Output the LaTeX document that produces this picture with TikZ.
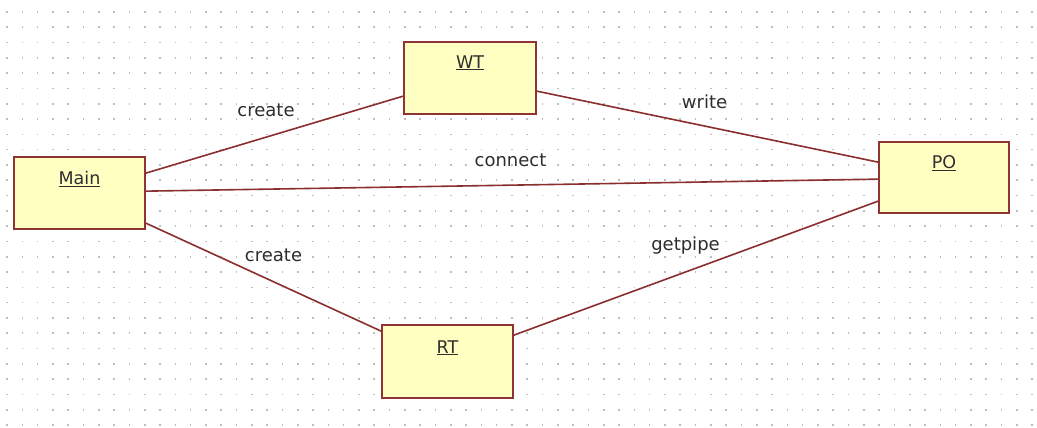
\documentclass[tikz,border=0pt]{standalone}
\usepackage{fontspec}
\setmainfont{DejaVu Sans}
\usetikzlibrary{calc}
\definecolor{boxfill}{HTML}{FFFFC2}
\definecolor{boxline}{HTML}{8E3434}
\definecolor{linkline}{HTML}{8A2E2E}
\definecolor{txt}{HTML}{2E2E2E}
\definecolor{dotc}{HTML}{BEBEBE}
\tikzset{
  classbox/.style={draw=boxline, line width=1.7pt, fill=boxfill, rectangle, inner sep=0pt},
  boxtext/.style={text=txt, font=\fontsize{17.5}{20}\selectfont, inner sep=0pt, anchor=base},
  linktext/.style={text=txt, font=\fontsize{18}{21}\selectfont, inner sep=0pt, anchor=base},
  link/.style={draw=linkline, line width=1.6pt}
}
\begin{document}
\begin{tikzpicture}[x=1pt,y=1pt]
\useasboundingbox (0,0) rectangle (1037,428);
\fill[white] (0,0) rectangle (1037,428);
% dot grid
\foreach \i in {0,...,67} {
  \foreach \j in {0,...,27} {
    \fill[dotc] ({7+15.3*\i-0.8},{428-12-15.3*\j-0.8}) rectangle ++(1.6,1.6);
  }
}
% boxes (image coords: y_tikz = 428 - y_img)
\node[classbox, minimum width=131pt, minimum height=72pt] (Main) at (79.5,235) {};
\node[classbox, minimum width=132pt, minimum height=72pt] (WT) at (470,350) {};
\node[classbox, minimum width=130pt, minimum height=71pt] (PO) at (944,250.5) {};
\node[classbox, minimum width=131pt, minimum height=73pt] (RT) at (447.5,66.5) {};
% box titles
\node[boxtext] (MainT) at ($(Main.north)+(0,-28)$) {\underline{Main}};
\node[boxtext] (WTT) at ($(WT.north)+(0,-27)$) {\underline{WT}};
\node[boxtext] (POT) at ($(PO.north)+(0,-27)$) {\underline{PO}};
\node[boxtext] (RTT) at ($(RT.north)+(0,-29)$) {\underline{RT}};
% connector end points
\coordinate (m1) at ($(Main.north east)+(0,-17)$);
\coordinate (m2) at ($(Main.north east)+(0,-35)$);
\coordinate (m3) at ($(Main.north east)+(0,-67)$);
\coordinate (w1) at ($(WT.north west)+(0,-55)$);
\coordinate (w2) at ($(WT.north east)+(0,-50)$);
\coordinate (p1) at ($(PO.north west)+(0,-21)$);
\coordinate (p2) at ($(PO.north west)+(0,-38)$);
\coordinate (p3) at ($(PO.north west)+(0,-60)$);
\coordinate (r1) at ($(RT.north west)+(0,-7)$);
\coordinate (r2) at ($(RT.north east)+(0,-11)$);
% connectors
\draw[link] (m1) -- (w1);
\draw[link] (m2) -- (p2);
\draw[link] (m3) -- (r1);
\draw[link] (w2) -- (p1);
\draw[link] (r2) -- (p3);
% connector labels
\node[linktext] (lcreate1) at (266,311) {create};
\node[linktext] (lwrite) at (704.5,319) {write};
\node[linktext] (lconnect) at (510.5,261) {connect};
\node[linktext] (lcreate2) at (273.5,166) {create};
\node[linktext] (lgetpipe) at (685.5,177) {getpipe};
\end{tikzpicture}
\end{document}
